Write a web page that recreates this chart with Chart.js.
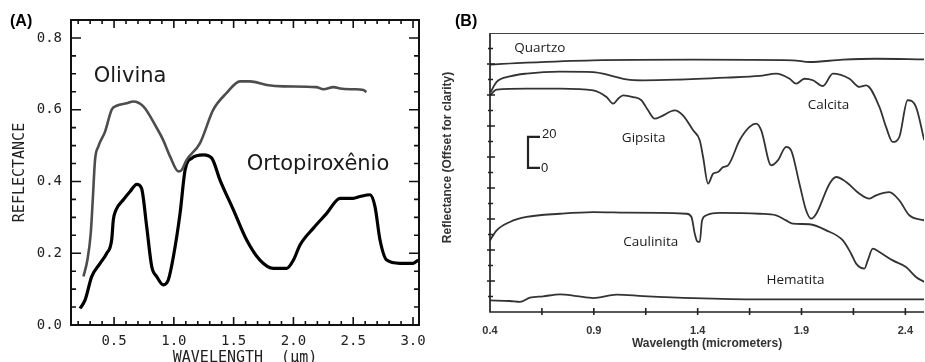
<!DOCTYPE html>
<html><head><meta charset="utf-8">
<script src="https://cdn.jsdelivr.net/npm/chart.js@4.4.0/dist/chart.umd.min.js"></script>
<style>
html,body{margin:0;padding:0;background:#fff;width:925px;height:362px;overflow:hidden;}
#a{position:absolute;left:0;top:0;}
#b{position:absolute;left:430px;top:0;}
</style></head><body>
<canvas id="a" width="460" height="362"></canvas>
<canvas id="b" width="495" height="362"></canvas>
<script>
// ---------- Panel A data ----------
const olivinaX = [0.244,0.277,0.305,0.322,0.341,0.369,0.425,0.48,0.522,0.606,0.66,0.745,0.857,0.91,0.968,1.038,1.066,1.107,1.219,1.33,1.44,1.553,1.637,1.776,1.916,2.19,2.25,2.334,2.39,2.5,2.585,2.61];
const olivinaY = [0.135,0.181,0.255,0.349,0.46,0.498,0.539,0.6,0.611,0.618,0.623,0.609,0.549,0.516,0.47,0.428,0.432,0.46,0.507,0.6,0.646,0.679,0.679,0.669,0.665,0.663,0.657,0.663,0.659,0.657,0.655,0.649];
const ortoX = [0.216,0.258,0.313,0.383,0.439,0.48,0.494,0.514,0.578,0.634,0.69,0.73,0.773,0.815,0.857,0.912,0.954,0.996,1.052,1.094,1.15,1.247,1.317,1.386,1.498,1.609,1.72,1.832,1.944,2.0,2.055,2.167,2.278,2.39,2.5,2.557,2.64,2.682,2.724,2.78,2.89,3.0,3.045];
const ortoY = [0.046,0.07,0.135,0.172,0.2,0.237,0.293,0.319,0.349,0.372,0.392,0.381,0.274,0.163,0.135,0.112,0.126,0.19,0.311,0.432,0.465,0.474,0.465,0.404,0.321,0.237,0.181,0.158,0.158,0.181,0.223,0.27,0.311,0.353,0.353,0.358,0.363,0.33,0.237,0.181,0.172,0.172,0.181];
const xTicksA = [0.5,1.0,1.5,2.0,2.5,3.0];
const yTicksA = [0.0,0.2,0.4,0.6,0.8];
const namesA = ['Olivina','Ortopiroxênio'];
const nameXA = [0.634,2.206];
const nameYA = [0.692,0.446];

// ---------- Panel B data ----------
const quartzoX = [0.4,0.576,0.897,1.378,1.858,1.939,2.099,2.259,2.491];
const quartzoY = [159.6,160.9,162.4,162.8,162.4,161.3,162.8,163.4,163.0];
const calcitaX = [0.403,0.432,0.496,0.576,0.737,0.897,0.977,1.057,1.137,1.297,1.538,1.698,1.778,1.843,1.874,1.914,1.955,2.003,2.051,2.131,2.179,2.211,2.275,2.307,2.339,2.371,2.411,2.451,2.491];
const calcitaY = [141.9,148.4,152.0,153.8,155.1,154.8,152.7,150.1,149.5,149.9,151.2,152.3,153.8,150.5,147.3,150.5,149.5,145.8,153.8,150.5,145.2,146.2,132.3,119.4,109.7,112.9,136.6,132.3,110.8];
const gipsitaX = [0.4,0.432,0.576,0.737,0.897,0.961,0.993,1.017,1.041,1.089,1.129,1.161,1.193,1.225,1.289,1.329,1.378,1.41,1.426,1.45,1.474,1.498,1.522,1.546,1.602,1.65,1.682,1.706,1.754,1.786,1.826,1.85,1.89,1.922,1.946,1.971,2.035,2.067,2.115,2.179,2.227,2.259,2.323,2.371,2.419,2.491];
const gipsitaY = [139.8,143.4,144.1,144.1,143.0,138.7,134.4,137.6,139.8,138.7,136.6,130.1,124.7,126.2,130.1,126.9,117.2,110.8,100.0,82.8,89.2,90.3,93.5,94.6,110.8,119.4,121.5,117.2,94.6,97.8,106.5,104.3,82.8,65.6,60.2,63.4,82.8,87.1,83.9,76.3,73.1,75.3,77.4,72.0,62.4,59.1];
const caulinitaX = [0.4,0.432,0.496,0.576,0.737,0.897,1.057,1.217,1.346,1.37,1.386,1.397,1.41,1.421,1.442,1.506,1.698,1.778,1.826,1.858,1.938,2.019,2.099,2.139,2.163,2.203,2.219,2.243,2.275,2.339,2.403,2.451,2.491];
const caulinitaY = [46.2,52.7,58.1,61.3,63.4,64.5,64.1,63.9,63.4,61.3,50.5,45.8,45.2,59.1,62.4,63.9,63.4,62.4,59.1,57.0,56.6,52.7,46.2,37.6,31.2,28.0,33.3,40.9,38.7,33.3,29.0,22.6,19.4];
const hematitaX = [0.4,0.496,0.544,0.592,0.656,0.737,0.817,0.897,1.009,1.137,1.378,1.698,2.019,2.491];
const hematitaY = [7.5,7.1,6.5,9.2,10.1,11.4,10.3,9.0,11.2,10.3,9.0,8.2,8.2,8.2];
const xTicksB = [0.4,0.9,1.4,1.9,2.4];
const namesB = ['Quartzo','Calcita','Gipsita','Caulinita','Hematita'];
const nameXB = [0.640,2.03,1.140,1.174,1.871];
const nameYB = [170.3,133.5,112.3,45.2,20.6];
const scaleBarB = {x:0.583, from:93, to:113, labels:['0','20']};

const zip = (xs, ys) => xs.map((x,i)=>({x, y: ys[i]}));

// ---------- Panel A ----------
const frameA = {
  id:'frameA',
  afterDraw(chart){
    const {ctx, chartArea:ca, scales:{x,y}} = chart;
    ctx.save();
    ctx.strokeStyle='#111'; ctx.lineWidth=2;
    ctx.strokeRect(ca.left, ca.top, ca.right-ca.left, ca.bottom-ca.top);
    ctx.lineWidth=1.6;
    ctx.beginPath();
    for (let i=2;i<=30;i++){
      const px = x.getPixelForValue(i/10);
      const L = (i%5===0)?8:4;
      ctx.moveTo(px, ca.bottom); ctx.lineTo(px, ca.bottom-L);
      ctx.moveTo(px, ca.top); ctx.lineTo(px, ca.top+L);
    }
    for (let i=1;i<=16;i++){
      const py = y.getPixelForValue(i*0.05);
      const L = (i%4===0)?10:5;
      ctx.moveTo(ca.left, py); ctx.lineTo(ca.left+L, py);
      ctx.moveTo(ca.right, py); ctx.lineTo(ca.right-L, py);
    }
    ctx.stroke();
    ctx.fillStyle='#1a1a1a';
    ctx.font='21px "DejaVu Sans"';
    ctx.textAlign='center'; ctx.textBaseline='middle';
    namesA.forEach((n,i)=>ctx.fillText(n, x.getPixelForValue(nameXA[i]), y.getPixelForValue(nameYA[i])));
    ctx.font='bold 16px "Liberation Sans"';
    ctx.textAlign='left';
    ctx.fillStyle='#000';
    ctx.fillText('(A)', 10, 22);
    ctx.restore();
  }
};

const monoFont = {family:'"DejaVu Sans Mono"', size:14};
new Chart(document.getElementById('a'), {
  type:'line',
  data:{datasets:[
    {data: zip(olivinaX, olivinaY), borderColor:'#4d4d4d', borderWidth:2.6, pointRadius:0, cubicInterpolationMode:'monotone'},
    {data: zip(ortoX, ortoY), borderColor:'#000', borderWidth:3.2, pointRadius:0, cubicInterpolationMode:'monotone'}
  ]},
  options:{
    responsive:false, animation:false, events:[],
    plugins:{legend:{display:false}, tooltip:{enabled:false}},
    layout:{padding:{top:20, right:41, left:0, bottom:0}},
    scales:{
      x:{type:'linear', min:0.14, max:3.05,
        grid:{display:false, drawTicks:false}, border:{display:false},
        afterBuildTicks: s=>{ s.ticks = xTicksA.map(v=>({value:v})); },
        ticks:{padding:8, font:monoFont, color:'#222', maxRotation:0, autoSkip:false, callback:v=>Number(v).toFixed(1)},
        title:{display:true, text:'WAVELENGTH  (μm)', font:{family:'"DejaVu Sans Mono"', size:15}, color:'#222', padding:{top:0, bottom:-5}},
        afterFit: s=>{ s.height = 37; }
      },
      y:{type:'linear', min:0, max:0.85,
        grid:{display:false, drawTicks:false}, border:{display:false},
        afterBuildTicks: s=>{ s.ticks = yTicksA.map(v=>({value:v})); },
        ticks:{padding:9, font:monoFont, color:'#222', callback:v=>Number(v).toFixed(1)},
        title:{display:true, text:'REFLECTANCE', font:{family:'"DejaVu Sans Mono"', size:15}, color:'#222', padding:{top:11, bottom:0}},
        afterFit: s=>{ s.width = 71; }
      }
    }
  },
  plugins:[frameA]
});

// ---------- Panel B ----------
const axesB = {
  id:'axesB',
  afterDraw(chart){
    const {ctx, chartArea:ca, scales:{x,y}} = chart;
    ctx.save();
    ctx.strokeStyle='#222'; ctx.lineWidth=1.7;
    ctx.beginPath();
    ctx.moveTo(ca.left, ca.top); ctx.lineTo(ca.left, ca.bottom); ctx.lineTo(ca.right, ca.bottom);
    ctx.stroke();
    ctx.lineWidth=1; ctx.strokeStyle='#444';
    ctx.beginPath(); ctx.moveTo(ca.left, ca.top+0.5); ctx.lineTo(ca.right, ca.top+0.5); ctx.stroke();
    ctx.lineWidth=1.6; ctx.strokeStyle='#222';
    ctx.beginPath();
    for (let v=10; v<=170; v+=10){
      const py = y.getPixelForValue(v);
      const long = v%20===0;
      ctx.moveTo(ca.left-(long?3:2), py); ctx.lineTo(ca.left+(long?5:3), py);
    }
    for (let k=1; k<=8; k++){
      const px = x.getPixelForValue(0.4+0.25*k);
      ctx.moveTo(px, ca.bottom-4); ctx.lineTo(px, ca.bottom+3);
    }
    ctx.stroke();
    // scale bar
    const bx = x.getPixelForValue(scaleBarB.x);
    const y0 = y.getPixelForValue(scaleBarB.from), y1 = y.getPixelForValue(scaleBarB.to);
    ctx.lineWidth=2.2; ctx.strokeStyle='#222';
    ctx.beginPath();
    ctx.moveTo(bx+12, y1); ctx.lineTo(bx, y1); ctx.lineTo(bx, y0); ctx.lineTo(bx+12, y0);
    ctx.stroke();
    ctx.fillStyle='#222';
    ctx.font='13px "Liberation Sans"';
    ctx.textAlign='left'; ctx.textBaseline='middle';
    ctx.fillText(scaleBarB.labels[1], bx+14, y1-2);
    ctx.fillText(scaleBarB.labels[0], bx+13, y0+1);
    // series names
    ctx.font='13.5px "Open Sans"';
    ctx.textAlign='center';
    ctx.fillStyle='#1a1a1a';
    namesB.forEach((n,i)=>ctx.fillText(n, x.getPixelForValue(nameXB[i]), y.getPixelForValue(nameYB[i])));
    ctx.font='bold 16px "Liberation Sans"';
    ctx.textAlign='left';
    ctx.fillStyle='#000';
    ctx.fillText('(B)', 25, 22);
    ctx.restore();
  }
};

const lineB = (xs, ys) => ({data: zip(xs, ys), borderColor:'#333', borderWidth:1.8, pointRadius:0, cubicInterpolationMode:'monotone'});
const boldSmall = {family:'"Liberation Sans"', size:11, weight:'bold'};
new Chart(document.getElementById('b'), {
  type:'line',
  data:{datasets:[
    lineB(quartzoX, quartzoY),
    lineB(calcitaX, calcitaY),
    lineB(gipsitaX, gipsitaY),
    lineB(caulinitaX, caulinitaY),
    lineB(hematitaX, hematitaY)
  ]},
  options:{
    responsive:false, animation:false, events:[],
    plugins:{legend:{display:false}, tooltip:{enabled:false}},
    layout:{padding:{top:33, right:0, left:0, bottom:0}},
    scales:{
      x:{type:'linear', min:0.4, max:2.49,
        grid:{display:false, drawTicks:false}, border:{display:false},
        afterBuildTicks: s=>{ s.ticks = xTicksB.map(v=>({value:v})); },
        ticks:{padding:12, font:boldSmall, color:'#333', maxRotation:0, autoSkip:false, callback:v=>Number(v).toFixed(1)},
        title:{display:true, text:'Wavelength (micrometers)', font:{family:'"Liberation Sans"', size:12, weight:'bold'}, color:'#333', padding:{top:0, bottom:11}},
        afterFit: s=>{ s.height = 50; }
      },
      y:{type:'linear', min:0, max:180,
        grid:{display:false, drawTicks:false}, border:{display:false},
        ticks:{display:false},
        title:{display:true, text:'         Reflectance (Offset for clarity)', font:{family:'"Liberation Sans"', size:12, weight:'bold'}, color:'#333', padding:{top:10, bottom:0}},
        afterFit: s=>{ s.width = 60; }
      }
    }
  },
  plugins:[axesB]
});
</script>
</body></html>
